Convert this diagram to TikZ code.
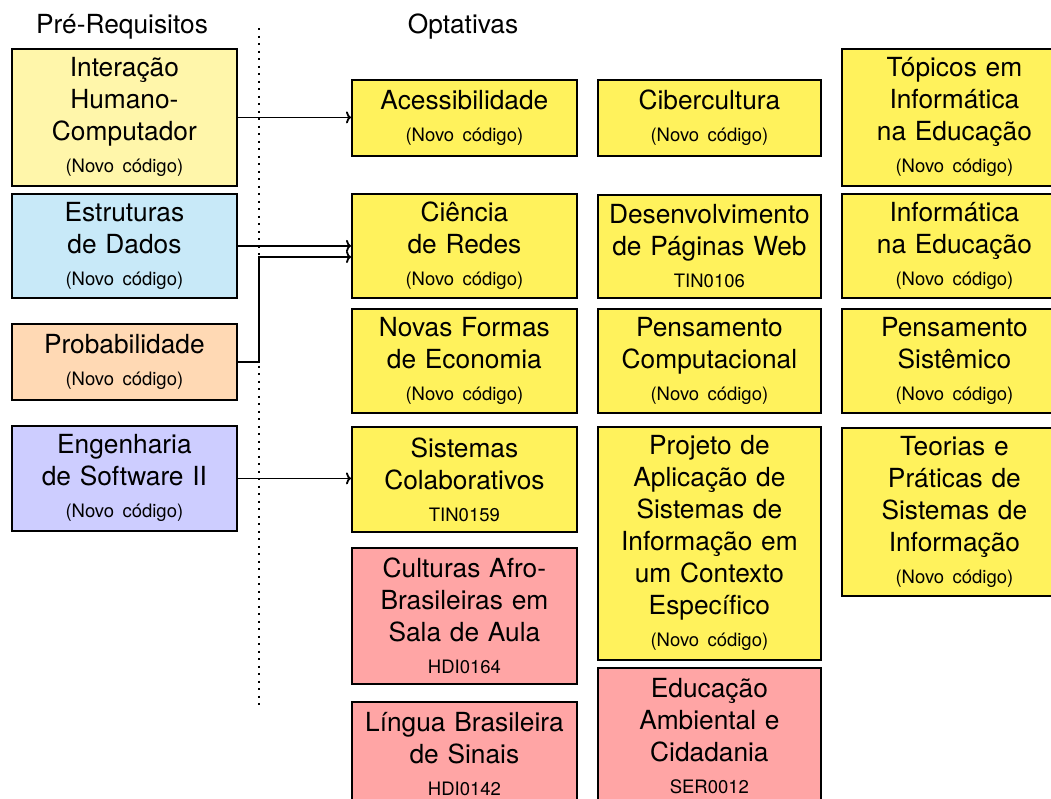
\documentclass[tikz,border=0pt]{standalone}
\usepackage{fontspec}
\setmainfont{TeX Gyre Heros}
\usetikzlibrary{arrows.meta}
\definecolor{ihcC}{RGB}{255,246,170}
\definecolor{edC}{RGB}{200,233,248}
\definecolor{probC}{RGB}{255,217,180}
\definecolor{esC}{RGB}{205,205,255}
\definecolor{optC}{RGB}{255,242,92}
\definecolor{redC}{RGB}{255,165,165}
\newcommand\nc{{\fontsize{18.5}{22}\selectfont(Novo\hspace{0.45em}código)}}
\newcommand\cd[1]{{\fontsize{18.5}{22}\selectfont #1}}
\begin{document}
\begin{tikzpicture}[x=1pt,y=-1pt,
  box/.style={draw=black, line width=1.8pt, anchor=north west, minimum width=225pt,
    inner sep=0pt, text width=219pt, align=center, font=\fontsize{26.3}{32}\selectfont},
  opt/.style={box, fill=optC},
  afr/.style={box, fill=redC},
  hdr/.style={anchor=base, font=\fontsize{26.3}{32}\selectfont},
  arr/.style={line width=1.8pt, -{To[length=5pt,width=12pt]}},
  sep/.style={line width=2.2pt, dash pattern=on 2.2pt off 5.3pt}]
\useasboundingbox (0,0) rectangle (1051,798);
\fill[white] (0,0) rectangle (1051,798);
\clip (0,0) rectangle (1051,798);

% headers
\node[hdr] (hpre) at (122,33) {Pré-Requisitos};
\node[hdr] (hopt) at (463,33) {Optativas};

% separator
\coordinate (dtop) at (259,28);
\coordinate (dbot) at (259,708);
\draw[sep] (dtop) -- (dbot);

% prerequisites
\node[box, fill=ihcC, minimum height=137pt] (ihc) at (11,48) {Interação\\Humano-\\Computador\\\nc};
\node[box, fill=edC, minimum height=104pt] (ed) at (11,193) {Estruturas\\de Dados\\\nc};
\node[box, fill=probC, minimum height=76pt] (prob) at (11,323) {Probabilidade\\\nc};
\node[box, fill=esC, minimum height=105pt] (es) at (11,425) {Engenharia\\de Software II\\\nc};

% column 2
\node[opt, minimum height=76pt] (aces) at (351,79) {Acessibilidade\\\nc};
\node[opt, minimum height=104pt] (cien) at (351,193) {Ciência\\de Redes\\\nc};
\node[opt, minimum height=104pt] (novas) at (351,308) {Novas Formas\\de Economia\\\nc};
\node[opt, minimum height=105pt] (sist) at (351,426) {Sistemas\\Colaborativos\\\cd{TIN0159}};
\node[afr, minimum height=136pt] (afro) at (351,547) {Culturas Afro-\\Brasileiras em\\Sala de Aula\\\cd{HDI0164}};
\node[afr, minimum height=104pt] (libras) at (351,701) {Língua Brasileira\\de Sinais\\\cd{HDI0142}};

% column 3
\node[opt, minimum width=223pt, minimum height=76pt] (ciber) at (597,79) {Cibercultura\\\nc};
\node[opt, minimum width=223pt, minimum height=103pt] (dpw) at (597,194) {Desenvolvimento\\de Páginas Web\\\cd{TIN0106}};
\node[opt, minimum width=223pt, minimum height=104pt] (pc) at (597,308) {Pensamento\\Computacional\\\nc};
\node[opt, minimum width=223pt, minimum height=233pt] (proj) at (597,426) {Projeto de\\Aplicação de\\Sistemas de\\Informação em\\um Contexto\\Específico\\\nc};
\node[afr, minimum width=223pt, minimum height=136pt] (eamb) at (597,667) {Educação\\Ambiental e\\Cidadania\\\cd{SER0012}};

% column 4
\node[opt, minimum height=137pt] (tie) at (841,48) {Tópicos em\\Informática\\na Educação\\\nc};
\node[opt, minimum height=104pt] (ie) at (841,193) {Informática\\na Educação\\\nc};
\node[opt, minimum height=104pt] (ps) at (841,308) {Pensamento\\Sistêmico\\\nc};
\node[opt, minimum height=168pt] (tp) at (841,427) {Teorias e\\Práticas de\\Sistemas de\\Informação\\\nc};

% connectors
\draw[arr] (ihc.east) -- (ihc.east -| aces.west);
\draw[arr] (ed.east) -- (ed.east -| cien.west);
\coordinate (pb) at (259,257);
\draw[arr] (prob.east) -| (pb) -- (pb -| cien.west);
\draw[arr] (es.east) -- (es.east -| sist.west);
\end{tikzpicture}
\end{document}
